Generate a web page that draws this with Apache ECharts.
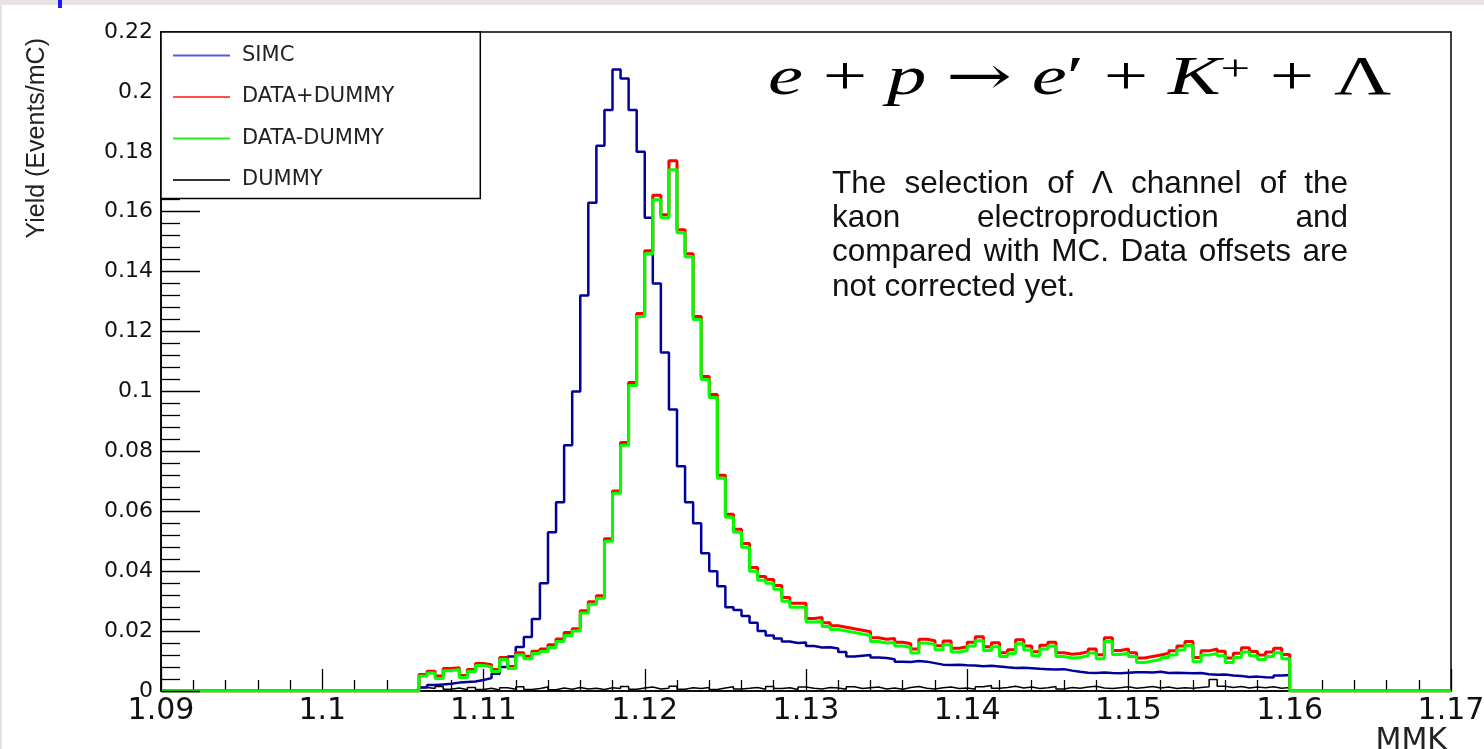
<!DOCTYPE html>
<html><head><meta charset="utf-8">
<script src="https://cdn.jsdelivr.net/npm/echarts@6/dist/echarts.min.js"></script>
<style>html,body{margin:0;padding:0;background:#fff}#c{width:1484px;height:749px}</style>
</head><body><div id="c"></div>
<script>
// ---- data (histograms, bin width 0.0005 starting at 1.106) ----
const xMin = 1.09, xMax = 1.17;
const binStart = 1.106, binWidth = 0.0005, binEnd = 1.16;
const seriesNames = ['SIMC', 'DATA+DUMMY', 'DATA-DUMMY', 'DUMMY'];

const simc = [0.0012,0.0020,0.0022,0.0024,0.0028,0.0030,0.0032,0.0037,0.0043,0.0058,
 0.0080,0.0115,0.0147,0.0180,0.0240,0.0360,0.0530,0.0630,0.0820,0.1000,
 0.1320,0.1630,0.1820,0.1940,0.2075,0.2045,0.1940,0.1800,0.1580,0.1360,
 0.1130,0.0940,0.0750,0.0630,0.0560,0.0460,0.0400,0.0350,0.0280,0.0270,
 0.0250,0.0228,0.0200,0.0185,0.0175,0.0165,0.0160,0.0162,0.0150,0.0145,
 0.0146,0.0142,0.0130,0.0115,0.0118,0.0120,0.0112,0.0110,0.0106,0.0098,
 0.0097,0.0100,0.0098,0.0093,0.0088,0.0087,0.0088,0.0086,0.0085,0.0083,
 0.0084,0.0082,0.0079,0.0077,0.0078,0.0076,0.0074,0.0073,0.0072,0.0073,
 0.0068,0.0064,0.0061,0.0060,0.0062,0.0060,0.0059,0.0061,0.0063,0.0063,
 0.0062,0.0064,0.0060,0.0061,0.0060,0.0059,0.0060,0.0056,0.0054,0.0055,
 0.0052,0.0050,0.0047,0.0048,0.0046,0.0045,0.0052,0.0053];

const dataPlusDummy = [0.0055,0.0066,0.0050,0.0075,0.0078,0.0052,0.0072,0.0092,0.0088,0.0072,
 0.0112,0.0082,0.0128,0.0116,0.0133,0.0140,0.0154,0.0174,0.0195,0.0208,
 0.0268,0.0298,0.0318,0.0508,0.0668,0.0830,0.1030,0.1260,0.1470,0.1655,
 0.1590,0.1770,0.1540,0.1460,0.1250,0.1050,0.0990,0.0720,0.0590,0.0540,
 0.0492,0.0412,0.0382,0.0372,0.0352,0.0312,0.0293,0.0293,0.0242,0.0245,
 0.0228,0.0218,0.0213,0.0208,0.0203,0.0198,0.0178,0.0173,0.0175,0.0163,
 0.0158,0.0140,0.0173,0.0168,0.0151,0.0167,0.0143,0.0148,0.0163,0.0181,
 0.0148,0.0161,0.0128,0.0138,0.0171,0.0150,0.0131,0.0153,0.0163,0.0128,
 0.0123,0.0125,0.0131,0.0140,0.0121,0.0178,0.0135,0.0140,0.0128,0.0110,
 0.0115,0.0120,0.0126,0.0134,0.0150,0.0165,0.0112,0.0134,0.0140,0.0133,
 0.0110,0.0126,0.0144,0.0132,0.0120,0.0130,0.0143,0.0122];

const dataMinusDummy = [0.0050,0.0060,0.0042,0.0068,0.0072,0.0045,0.0065,0.0085,0.0080,0.0065,
 0.0105,0.0075,0.0120,0.0108,0.0125,0.0132,0.0145,0.0165,0.0185,0.0200,
 0.0260,0.0290,0.0310,0.0500,0.0660,0.0820,0.1020,0.1250,0.1460,0.1640,
 0.1580,0.1740,0.1530,0.1450,0.1240,0.1040,0.0980,0.0710,0.0580,0.0530,
 0.0480,0.0400,0.0370,0.0360,0.0340,0.0300,0.0280,0.0280,0.0230,0.0232,
 0.0215,0.0205,0.0200,0.0195,0.0190,0.0185,0.0165,0.0160,0.0162,0.0150,
 0.0145,0.0127,0.0160,0.0155,0.0138,0.0154,0.0130,0.0135,0.0150,0.0168,
 0.0135,0.0148,0.0115,0.0125,0.0158,0.0137,0.0118,0.0140,0.0150,0.0115,
 0.0110,0.0112,0.0118,0.0127,0.0108,0.0165,0.0122,0.0127,0.0115,0.0095,
 0.0100,0.0105,0.0112,0.0120,0.0137,0.0152,0.0098,0.0120,0.0125,0.0118,
 0.0095,0.0112,0.0130,0.0118,0.0105,0.0115,0.0128,0.0108];

const dummy = [0.0012,0.0008,0.0015,0.0006,0.0010,0.0004,0.0012,0.0005,0.0009,0.0003,
 0.0011,0.0006,0.0014,0.0005,0.0008,0.0013,0.0004,0.0010,0.0006,0.0012,
 0.0007,0.0009,0.0005,0.0011,0.0008,0.0015,0.0006,0.0010,0.0013,0.0007,
 0.0009,0.0016,0.0006,0.0011,0.0008,0.0012,0.0005,0.0010,0.0014,0.0007,
 0.0009,0.0012,0.0006,0.0015,0.0008,0.0011,0.0005,0.0013,0.0009,0.0007,
 0.0012,0.0010,0.0006,0.0014,0.0008,0.0011,0.0013,0.0007,0.0010,0.0006,
 0.0012,0.0015,0.0009,0.0007,0.0011,0.0013,0.0008,0.0010,0.0006,0.0014,
 0.0018,0.0009,0.0012,0.0016,0.0010,0.0013,0.0008,0.0011,0.0015,0.0007,
 0.0012,0.0009,0.0013,0.0016,0.0010,0.0008,0.0011,0.0014,0.0009,0.0012,
 0.0015,0.0010,0.0013,0.0008,0.0011,0.0009,0.0012,0.0014,0.0038,0.0016,
 0.0012,0.0015,0.0010,0.0013,0.0011,0.0014,0.0009,0.0012];

const formulaText = '{i|e} + {i|p} {a|\u2192} {i|e}\u2032 + {i|K}{s|+} + \u039B';
const noteLines = ['The selection of \u039B channel of the', 'kaon electroproduction and',
  'compared with MC. Data offsets are', 'not corrected yet.'];

// ---- build histogram step points ----
function histPoints(values) {
  const pts = [[xMin, 0]];
  values.forEach((v, i) => pts.push([+(binStart + i * binWidth).toFixed(4), v]));
  pts.push([binEnd, 0]);
  pts.push([xMax, 0]);
  return pts;
}

const chart = echarts.init(document.getElementById('c'), null, {renderer: 'canvas'});

// justified note text
const noteFont = '31.5px "Liberation Sans"';
const ctx = document.createElement('canvas').getContext('2d');
ctx.font = noteFont;
const noteLeft = 832, noteRight = 1348, noteY0 = 184, noteDY = 34.3;
const graphics = [
  {type: 'rect', left: 0, top: 0, shape: {width: 1484, height: 5}, style: {fill: '#e8e3e1'}, silent: true},
  {type: 'rect', left: 0, top: 0, shape: {width: 2, height: 749}, style: {fill: '#e8e3e1'}, silent: true},
  {type: 'rect', left: 58, top: 0, shape: {width: 4, height: 8}, style: {fill: '#1b1bff'}, silent: true},
  {type: 'text', x: 37, y: 38, rotation: Math.PI / 2,
   style: {text: 'Yield (Events/mC)', font: '25px "Liberation Sans"', fill: '#222', align: 'right', verticalAlign: 'middle'}},
  {type: 'text', x: 768, y: 80, scaleX: 1.46, scaleY: 1,
   style: {text: formulaText, font: '54px "Liberation Serif"', fill: '#000', align: 'left', verticalAlign: 'middle',
     rich: {i: {font: 'italic 54px "Liberation Serif"'},
            a: {font: '54px "DejaVu Serif"'},
            s: {font: '36px "Liberation Serif"', verticalAlign: 'top'}}}}
];
noteLines.forEach((line, li) => {
  const words = line.split(' ');
  const ws = words.map(w => ctx.measureText(w).width);
  const total = ws.reduce((a, b) => a + b, 0);
  const justify = li < noteLines.length - 1;
  const gap = justify ? (noteRight - noteLeft - total) / (words.length - 1) : ctx.measureText(' ').width;
  let x = noteLeft;
  words.forEach((w, k) => {
    graphics.push({type: 'text', x: x, y: noteY0 + li * noteDY,
      style: {text: w, font: noteFont, fill: '#111', align: 'left', verticalAlign: 'middle'}});
    x += ws[k] + gap;
  });
});

const colors = ['#00009a', '#ff0000', '#00ff00', '#000000'];
const option = {
  animation: false,
  backgroundColor: '#fff',
  grid: {left: 161, right: 33, top: 32, bottom: 58, outerBoundsMode: 'none', show: true,
         borderColor: '#000', borderWidth: 1.5, backgroundColor: 'transparent'},
  legend: {
    orient: 'vertical', left: 161, top: 32, z: 20,
    data: [
      {name: 'SIMC', itemStyle: {color: '#5a5ad8'}},
      {name: 'DATA+DUMMY', itemStyle: {color: '#ff5050'}},
      {name: 'DATA-DUMMY', itemStyle: {color: '#22ee22'}},
      {name: 'DUMMY', itemStyle: {color: '#333'}}
    ],
    icon: 'rect', itemWidth: 57, itemHeight: 2, itemGap: 20.5,
    padding: [13, 86, 8, 12],
    backgroundColor: '#fff', borderColor: '#000', borderWidth: 1.5, borderRadius: 0,
    textStyle: {fontSize: 21, fontFamily: 'DejaVu Sans', color: '#222', lineHeight: 20, padding: [0, 0, 0, 7]},
    selectedMode: false
  },
  xAxis: {
    type: 'value', min: xMin, max: xMax, interval: 0.01,
    axisLine: {show: true, onZero: false, lineStyle: {color: '#000', width: 1.5}},
    axisTick: {show: true, inside: true, length: 22, lineStyle: {color: '#000', width: 1.3}},
    minorTick: {show: true, splitNumber: 5, length: 11, lineStyle: {color: '#000', width: 1.3}},
    splitLine: {show: false}, minorSplitLine: {show: false},
    axisLabel: {fontSize: 30, fontFamily: 'DejaVu Sans', color: '#111', margin: 5},
    name: 'MMK', nameLocation: 'end', nameGap: 0,
    nameTextStyle: {fontSize: 30, fontFamily: 'DejaVu Sans', color: '#222', align: 'right', verticalAlign: 'top', padding: [35, 4, 0, 0]}
  },
  yAxis: {
    type: 'value', min: 0, max: 0.22, interval: 0.02, z: 10,
    axisLine: {show: true, lineStyle: {color: '#000', width: 1.5}},
    axisTick: {show: true, inside: true, length: 39, lineStyle: {color: '#000', width: 1.3}},
    minorTick: {show: true, splitNumber: 5, length: 19, lineStyle: {color: '#000', width: 1.3}},
    splitLine: {show: false}, minorSplitLine: {show: false},
    axisLabel: {fontSize: 22, fontFamily: 'DejaVu Sans', color: '#111', margin: 8, padding: [6, 0, 0, 0]}
  },
  series: [
    {name: 'DUMMY', type: 'line', step: 'end', data: histPoints(dummy), showSymbol: false, symbol: 'none', z: 2,
     lineStyle: {color: colors[3], width: 1.5}, itemStyle: {color: colors[3]}},
    {name: 'SIMC', type: 'line', step: 'end', data: histPoints(simc), showSymbol: false, symbol: 'none', z: 3,
     lineStyle: {color: colors[0], width: 2.5}, itemStyle: {color: colors[0]}},
    {name: 'DATA+DUMMY', type: 'line', step: 'end', data: histPoints(dataPlusDummy), showSymbol: false, symbol: 'none', z: 4,
     lineStyle: {color: colors[1], width: 3}, itemStyle: {color: colors[1]}},
    {name: 'DATA-DUMMY', type: 'line', step: 'end', data: histPoints(dataMinusDummy), showSymbol: false, symbol: 'none', z: 5,
     lineStyle: {color: colors[2], width: 3}, itemStyle: {color: colors[2]}}
  ],
  graphic: graphics
};
chart.setOption(option);
</script>
</body></html>
